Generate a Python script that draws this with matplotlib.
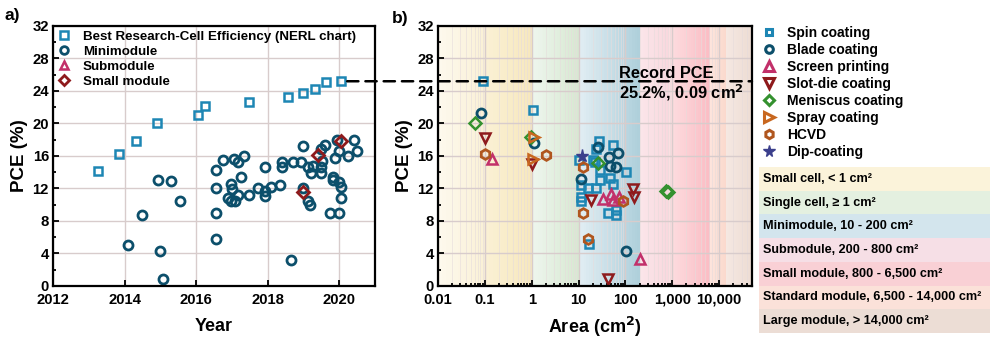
import numpy as np
import matplotlib
matplotlib.use("Agg")
import matplotlib.pyplot as plt
from matplotlib.patches import Rectangle, ConnectionPatch
from matplotlib.lines import Line2D
from matplotlib.colors import to_rgb
from matplotlib.ticker import FixedLocator, MultipleLocator, LogLocator, NullFormatter, FuncFormatter

plt.rcParams['font.family'] = ['Liberation Sans', 'DejaVu Sans']
plt.rcParams['font.weight'] = 'bold'

# ---------------- data: panel a ----------------
nrel_year = [2013.25, 2013.83, 2014.32, 2014.91, 2016.06, 2016.25, 2017.48, 2018.57, 2018.98, 2019.31, 2019.64, 2020.06]
nrel_pce = [14.1, 16.2, 17.9, 20.1, 21.0, 22.1, 22.7, 23.3, 23.7, 24.2, 25.1, 25.2]

mini_year = [2014.09, 2014.48, 2014.92, 2014.99, 2015.07, 2015.31, 2015.56, 2016.55, 2016.55, 2016.55,
             2016.55, 2016.74, 2016.88, 2016.96, 2016.98, 2016.99, 2017.07, 2017.09, 2017.16, 2017.18,
             2017.24, 2017.33, 2017.48, 2017.72, 2017.91, 2017.91, 2017.91, 2018.10, 2018.34, 2018.40,
             2018.40, 2018.66, 2018.72, 2018.92, 2018.98, 2018.98, 2019.12, 2019.12, 2019.17, 2019.22,
             2019.27, 2019.48, 2019.48, 2019.50, 2019.52, 2019.59, 2019.73, 2019.82, 2019.82, 2019.89,
             2019.94, 2019.98, 2019.98, 2019.98, 2020.06, 2020.06, 2020.24, 2020.41, 2020.50]
mini_pce = [5.1, 8.7, 13.0, 4.3, 0.9, 12.9, 10.5, 14.3, 12.0, 9.0,
            5.8, 15.5, 10.8, 10.4, 12.6, 11.9, 15.6, 10.4, 15.3, 11.2,
            13.4, 16.0, 11.2, 12.1, 14.6, 11.7, 11.1, 12.2, 12.4, 15.3,
            14.6, 3.2, 15.3, 15.2, 17.2, 12.0, 14.6, 10.4, 10.0, 13.9,
            14.8, 14.7, 16.9, 13.9, 15.4, 17.4, 9.0, 13.4, 13.0, 15.8,
            18.0, 12.8, 9.0, 16.6, 12.2, 10.8, 16.0, 18.0, 16.6]

sub_year = []
sub_pce = []

small_year = [2018.98, 2019.40, 2020.06]
small_pce = [11.6, 16.1, 17.9]

# ---------------- data: panel b ----------------
spin_area = [0.09, 1.07, 10.4, 11.5, 11.5, 11.5, 16, 20, 22, 24, 24, 27, 28, 28, 46, 54, 54, 105, 42, 63, 63, 17]
spin_pce = [25.2, 21.6, 15.5, 12.4, 11.0, 10.5, 12.0, 15.5, 15.2, 12.0, 16.8, 17.9, 14.3, 13.0, 13.3, 12.6, 17.35, 14.0, 9.0, 8.7, 9.3, 5.2]
blade_area = [0.083, 1.13, 11.5, 26, 44, 68, 47, 63, 105]
blade_pce = [21.3, 17.6, 13.2, 17.1, 15.9, 16.4, 14.8, 14.6, 4.3]
screen_area = [0.14, 33, 48, 54, 74, 200]
screen_pce = [15.6, 10.7, 11.3, 10.6, 10.9, 3.3]
slot_area = [0.1, 1.02, 18.6, 145, 155, 42]
slot_pce = [18.2, 15.0, 10.6, 11.9, 11.0, 0.9]
menis_area = [0.06, 0.96, 26.5, 740, 800]
menis_pce = [20.1, 18.3, 15.1, 11.7, 11.6]
spray_area = [1.1, 1.07]
spray_pce = [18.3, 15.6]
hcvd_area = [0.1, 2.04, 12.3, 12.3, 16, 87]
hcvd_pce = [16.2, 16.1, 14.7, 9.0, 5.8, 10.4]
dip_area = [12.0]
dip_pce = [16.0]

record_pce = 25.2

band_labels = ["Small cell, < 1 cm\u00b2", "Single cell, \u2265 1 cm\u00b2", "Minimodule, 10 - 200 cm\u00b2",
               "Submodule, 200 - 800 cm\u00b2", "Small module, 800 - 6,500 cm\u00b2",
               "Standard module, 6,500 - 14,000 cm\u00b2", "Large module, > 14,000 cm\u00b2"]
band_edges = [0.01, 1, 10, 200, 800, 6500, 14000, 5e4]
band_c0 = ["#fdf9ee", "#eef6ee", "#e2eef3", "#fbe6ea", "#fcdfe2", "#fde4dc", "#f5e8e2"]
band_c1 = ["#f7e8bd", "#d6e8d1", "#aecfdb", "#f9d8de", "#fbbcc3", "#fbd9cd", "#eddcd3"]
box_colors = ["#fbf3da", "#e4f0e0", "#d3e5ed", "#f6dfe6", "#f9d0d5", "#fbe1d9", "#ecddd5"]

# ---------------- figure ----------------
fig = plt.figure(figsize=(10.01, 3.43), dpi=100)
axa = fig.add_axes([0.053, 0.1662, 0.3217, 0.758])
axb = fig.add_axes([0.4376, 0.1662, 0.3136, 0.758])

grid_c = "#d8cccc"
ms = 6.5
mew = 1.8

c_spin = "#1d86b4"
c_blade = "#0c4f6b"
c_screen = "#c2306a"
c_slot = "#8e1a1c"
c_menis = "#34912f"
c_spray = "#c8671f"
c_hcvd = "#b0561e"
c_dip = "#3b3f8c"

# panel a
axa.plot(nrel_year, nrel_pce, 's', ms=ms - 0.5, mfc='none', mec=c_spin, mew=mew, ls='none',
         label='Best Research-Cell Efficiency (NERL chart)', zorder=3)
axa.plot(mini_year, mini_pce, 'o', ms=ms, mfc='none', mec=c_blade, mew=mew + 0.2, ls='none',
         label='Minimodule', zorder=3)
axa.plot(sub_year, sub_pce, '^', ms=ms, mfc='none', mec=c_screen, mew=mew, ls='none',
         label='Submodule', zorder=3)
axa.plot(small_year, small_pce, 'D', ms=ms - 0.5, mfc='none', mec=c_slot, mew=mew + 0.2, ls='none',
         label='Small module', zorder=4)
axa.set_xlim(2012, 2021)
axa.set_ylim(0, 32)
axa.xaxis.set_major_locator(MultipleLocator(2))
axa.yaxis.set_major_locator(MultipleLocator(4))
axa.yaxis.set_minor_locator(MultipleLocator(2))
axa.grid(True, which='major', color=grid_c, lw=1.0, zorder=0)
axa.set_axisbelow(True)
axa.set_xlabel('Year', fontsize=13, fontweight='bold', labelpad=8)
axa.set_ylabel('PCE (%)', fontsize=13.5, fontweight='bold', labelpad=3)
leg = axa.legend(loc='upper left', frameon=False, fontsize=9.6, handletextpad=0.9, labelspacing=0.2,
                 borderaxespad=0.15, handlelength=1.0, borderpad=0.2, markerscale=0.85)

# panel b backgrounds
nsl = 24
for i in range(len(band_edges) - 1):
    lo, hi = np.log10(band_edges[i]), np.log10(band_edges[i + 1])
    c0, c1 = np.array(to_rgb(band_c0[i])), np.array(to_rgb(band_c1[i]))
    for k in range(nsl):
        t = (k + 0.5) / nsl
        col = c0 + (c1 - c0) * t
        axb.axvspan(10 ** (lo + (hi - lo) * k / nsl), 10 ** (lo + (hi - lo) * (k + 1) / nsl),
                    color=col, lw=0, zorder=0)

axb.set_xscale('log')
axb.set_xlim(0.01, 5e4)
axb.set_ylim(0, 32)
axb.yaxis.set_major_locator(MultipleLocator(4))
axb.yaxis.set_minor_locator(MultipleLocator(2))
axb.xaxis.set_major_locator(FixedLocator([0.01, 0.1, 1, 10, 100, 1000, 10000]))
axb.xaxis.set_minor_locator(LogLocator(base=10, subs=np.arange(2, 10), numticks=20))
axb.xaxis.set_minor_formatter(NullFormatter())
tick_names = {0: '0.01', 1: '0.1', 2: '1', 3: '10', 4: '100', 5: '1,000', 6: '10,000'}
axb.xaxis.set_major_formatter(FuncFormatter(lambda v, p: tick_names.get(int(round(np.log10(v) + 2)), '')))
axb.grid(True, which='major', color=grid_c, lw=1.0, zorder=1)
axb.grid(True, which='minor', axis='x', color="#e6dcdc", lw=0.6, alpha=0.7, zorder=1)
axb.set_axisbelow(False)
for gl in axb.get_xgridlines() + axb.get_ygridlines():
    gl.set_zorder(1)

def pb(x, y, m, c, s=ms, w=mew):
    axb.plot(x, y, m, ms=s, mfc='none', mec=c, mew=w, ls='none', zorder=3)

pb(spin_area, spin_pce, 's', c_spin, ms - 0.5)
pb(blade_area, blade_pce, 'o', c_blade, ms, mew + 0.2)
pb(screen_area, screen_pce, '^', c_screen, ms + 0.5)
pb(slot_area, slot_pce, 'v', c_slot, ms + 0.5)
pb(menis_area, menis_pce, 'D', c_menis, ms - 0.5)
pb(spray_area, spray_pce, '>', c_spray, ms + 0.5)
pb(hcvd_area, hcvd_pce, 'h', c_hcvd, ms + 0.5, mew + 0.2)
axb.plot(dip_area, dip_pce, '*', ms=ms + 3, color=c_dip, mec=c_dip, ls='none', zorder=3)

axb.set_xlabel('Area (cm$^\\mathbf{2}$)', fontsize=13, fontweight='bold', labelpad=6)
axb.set_ylabel('PCE (%)', fontsize=13.5, fontweight='bold', labelpad=3)

for ax in (axa, axb):
    for sp in ax.spines.values():
        sp.set_linewidth(1.6)
        sp.set_zorder(5)
    ax.tick_params(which='both', direction='in', labelsize=10.7, width=1.3, top=False, right=False)
    ax.tick_params(which='major', length=4.5)
    ax.tick_params(which='minor', length=2.5)
    ax.tick_params(axis='x', pad=5)
    ax.tick_params(axis='y', pad=3)
    for lab in ax.get_xticklabels() + ax.get_yticklabels():
        lab.set_fontweight('bold')

# record line
con = ConnectionPatch(xyA=(2020.22, record_pce), coordsA=axa.transData,
                      xyB=(5e4, record_pce), coordsB=axb.transData,
                      color='black', lw=1.8, ls=(0, (4.5, 2.8)), zorder=10)
fig.add_artist(con)
axb.text(0.575, 0.776, 'Record PCE\n25.2%, 0.09 cm$^\\mathbf{2}$', transform=axb.transAxes,
         fontsize=11.8, fontweight='bold', va='center', ha='left', linespacing=1.1, zorder=11)

# panel labels
fig.text(0.004, 0.955, 'a)', fontsize=12.5, fontweight='bold', va='center')
fig.text(0.391, 0.947, 'b)', fontsize=12.5, fontweight='bold', va='center')

# method legend
handles = [
    Line2D([], [], marker='s', ms=ms - 1.5, mfc='none', mec=c_spin, mew=mew + 0.4, ls='none'),
    Line2D([], [], marker='o', ms=ms - 1, mfc='none', mec=c_blade, mew=mew + 0.4, ls='none'),
    Line2D([], [], marker='^', ms=ms, mfc='none', mec=c_screen, mew=mew + 0.4, ls='none'),
    Line2D([], [], marker='v', ms=ms, mfc='none', mec=c_slot, mew=mew + 0.4, ls='none'),
    Line2D([], [], marker='D', ms=ms - 1.5, mfc='none', mec=c_menis, mew=mew + 0.4, ls='none'),
    Line2D([], [], marker='>', ms=ms, mfc='none', mec=c_spray, mew=mew + 0.4, ls='none'),
    Line2D([], [], marker='h', ms=ms - 0.5, mfc='none', mec=c_hcvd, mew=mew + 0.4, ls='none'),
    Line2D([], [], marker='*', ms=ms + 2, color=c_dip, ls='none'),
]
labels = ['Spin coating', 'Blade coating', 'Screen printing', 'Slot-die coating', 'Meniscus coating',
          'Spray coating', 'HCVD', 'Dip-coating']
fig.legend(handles, labels, loc='upper left', bbox_to_anchor=(0.761, 0.925), frameon=False,
           fontsize=10.0, handletextpad=0.8, labelspacing=0.22, handlelength=1.0, borderpad=0, borderaxespad=0)

# area category boxes
box_x0, box_x1 = 759 / 1001, 990 / 1001
box_top = 167
box_h = 23.7
for i, (lab, col) in enumerate(zip(band_labels, box_colors)):
    ytop = box_top + i * box_h
    fig.patches.append(Rectangle((box_x0, 1 - (ytop + box_h) / 343), box_x1 - box_x0, box_h / 343,
                                 transform=fig.transFigure, facecolor=col, edgecolor='none', zorder=0))
    fig.text(box_x0 + 4 / 1001, 1 - (ytop + box_h / 2) / 343, lab, fontsize=9.1, fontweight='bold',
             va='center', ha='left')

fig.savefig('out.png', dpi=100)
